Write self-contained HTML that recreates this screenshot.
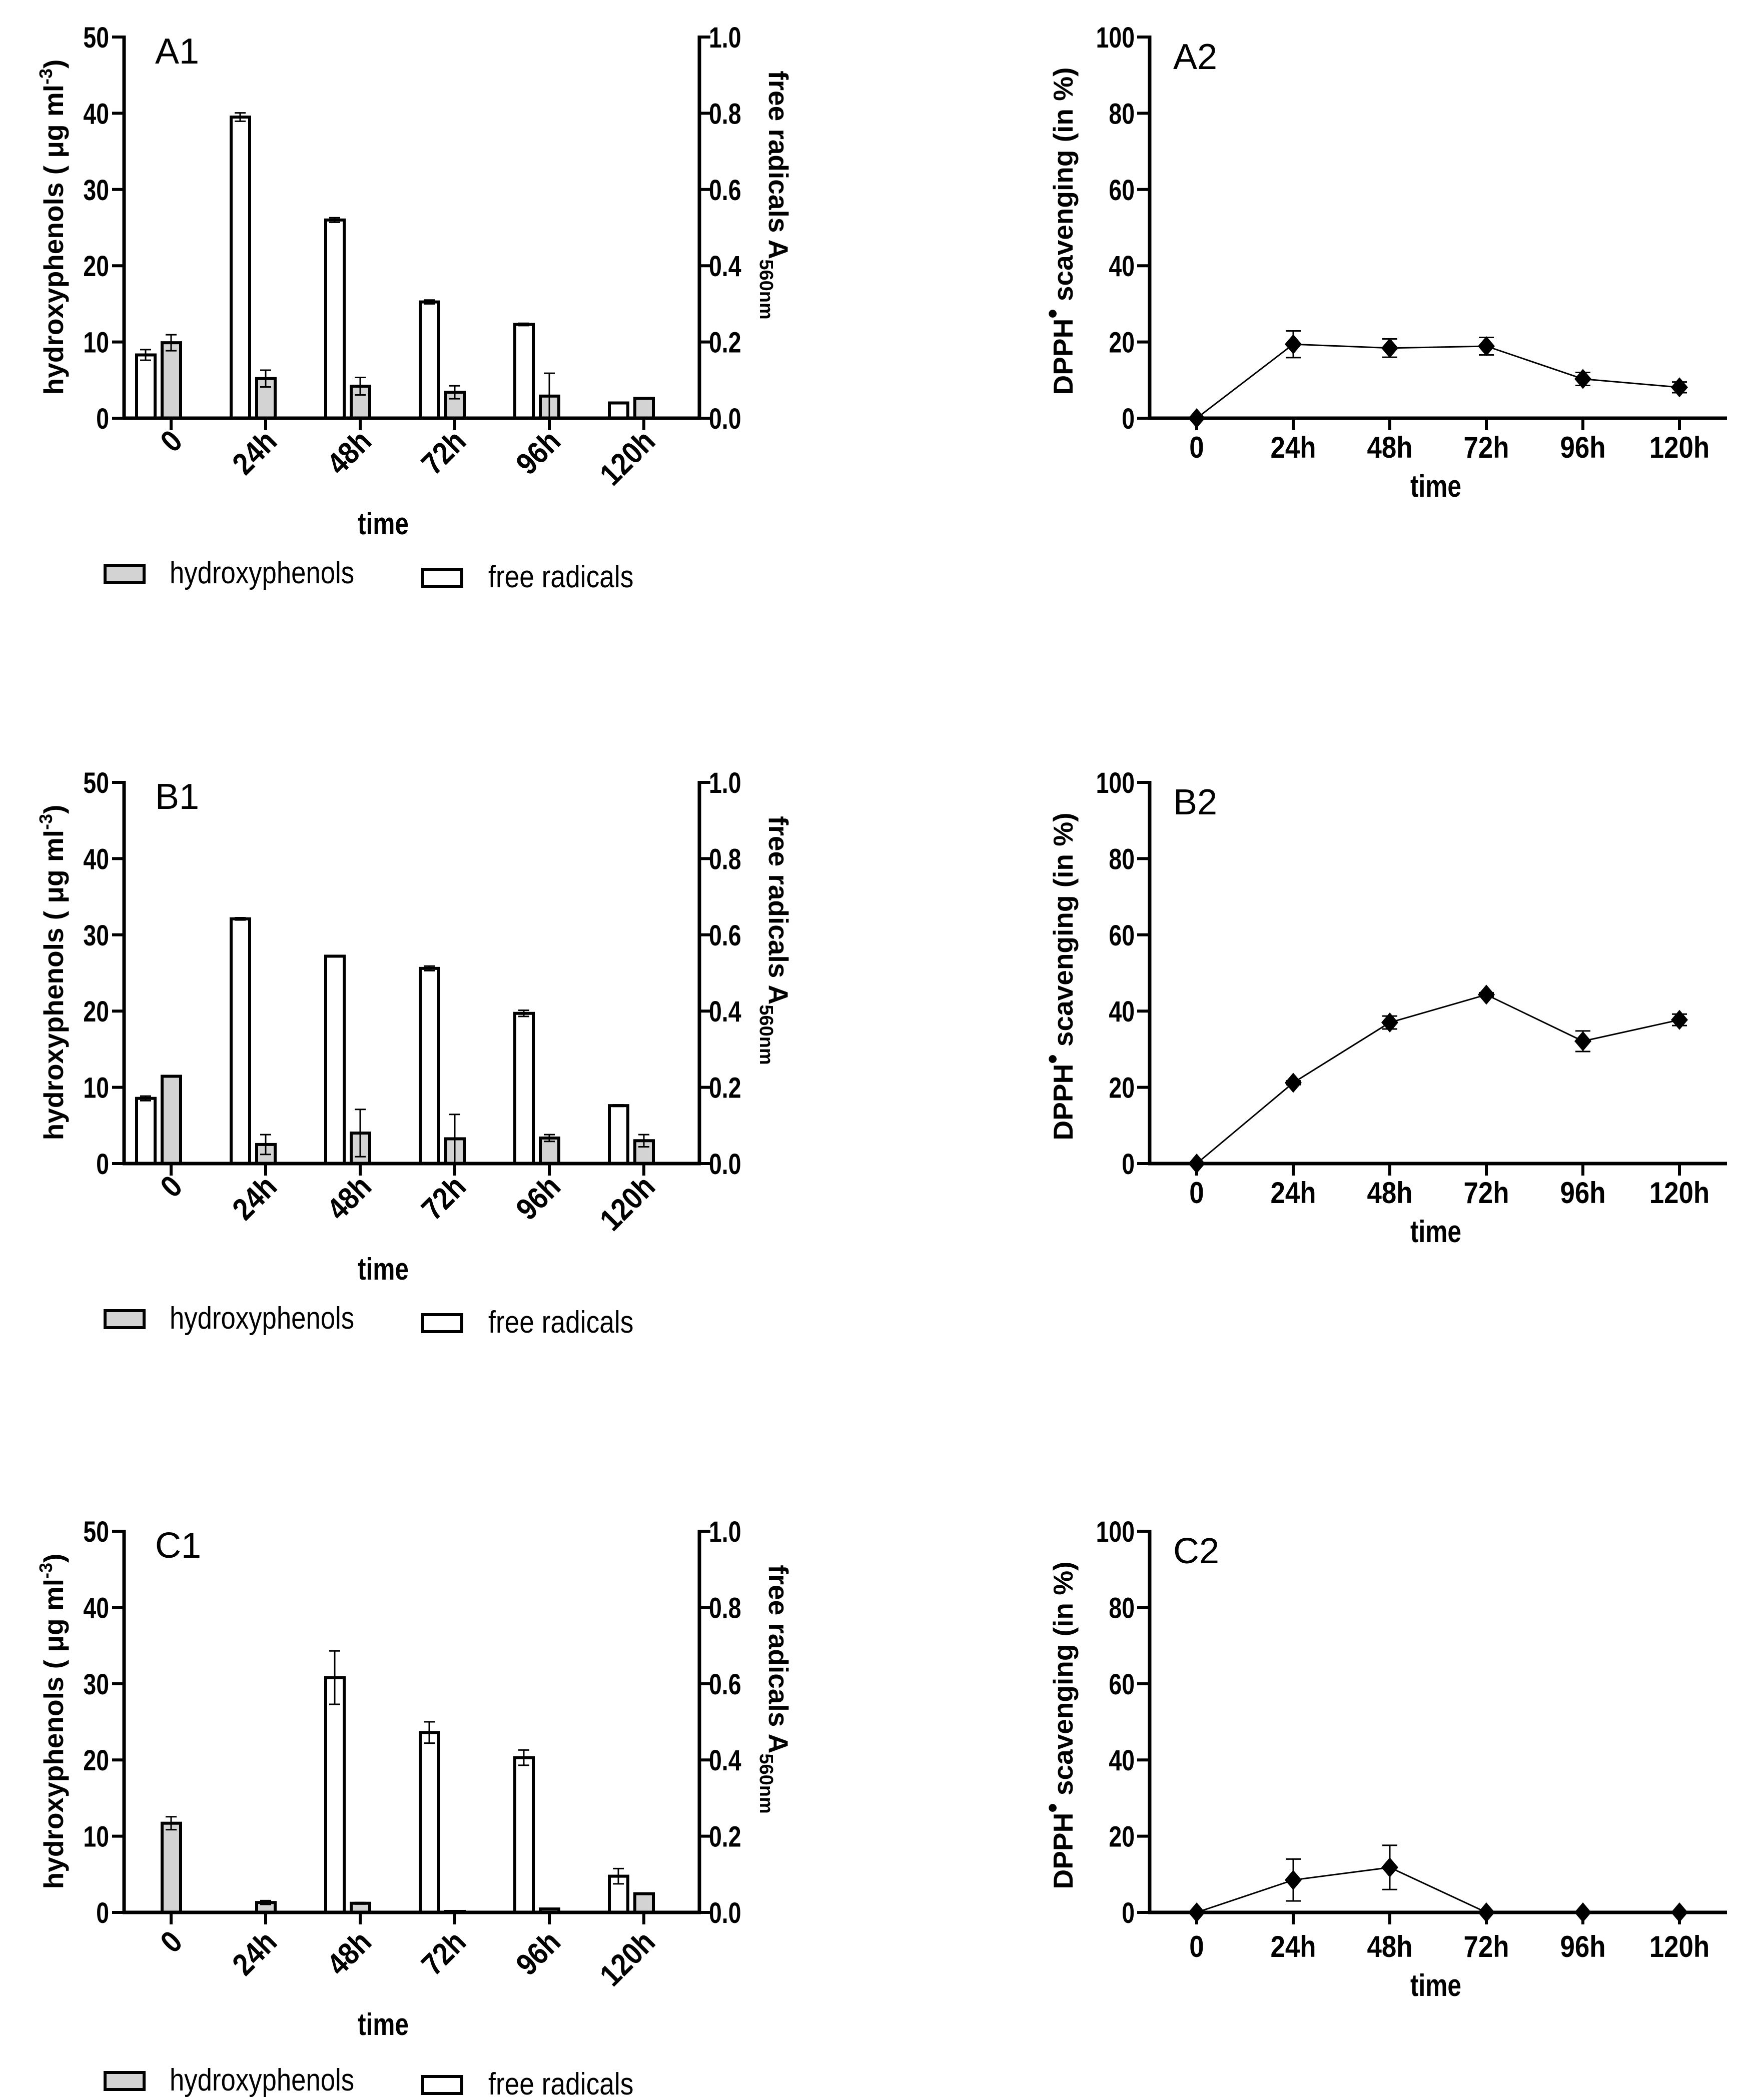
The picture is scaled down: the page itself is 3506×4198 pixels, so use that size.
<!DOCTYPE html>
<html>
<head>
<meta charset="utf-8">
<style>
html,body{margin:0;padding:0;background:#fff;}
svg{display:block;}
.tk{font-family:"Liberation Sans Narrow","Liberation Sans",sans-serif;font-weight:bold;font-size:58px;fill:#000;}
.ttl{font-family:"Liberation Sans",sans-serif;font-weight:bold;font-size:55px;fill:#000;}
.pl{font-family:"Liberation Sans Narrow","Liberation Sans",sans-serif;font-size:72px;fill:#000;}
.lg{font-family:"Liberation Sans Narrow","Liberation Sans",sans-serif;font-size:62px;fill:#000;}
</style>
</head>
<body>
<svg id="fig" xmlns="http://www.w3.org/2000/svg" width="3506" height="4198" viewBox="0 0 3506 4198"></svg>
<script>
const timeLabels = ['0','24h','48h','72h','96h','120h'];
const leftTicks = [0,10,20,30,40,50];
const rightTicks = ['0.0','0.2','0.4','0.6','0.8','1.0'];
const dpphTicks = [0,20,40,60,80,100];

const a1Radicals = [0.166,0.79,0.52,0.305,0.246,0.04];
const a1RadErr = [0.014,0.011,0.006,0.005,0.003,0.002];
const a1Phenols = [9.9,5.2,4.2,3.4,2.9,2.6];
const a1PhenErr = [1.05,1.1,1.15,0.85,3.0,0];

const b1Radicals = [0.171,0.642,0.544,0.512,0.394,0.152];
const b1RadErr = [0.006,0.003,0.002,0.006,0.008,0.002];
const b1Phenols = [11.45,2.5,4.0,3.25,3.35,3.0];
const b1PhenErr = [0.1,1.3,3.1,3.2,0.45,0.8];

const c1Radicals = [0,0,0.616,0.472,0.406,0.095];
const c1RadErr = [0,0,0.07,0.028,0.02,0.02];
const c1Phenols = [11.7,1.3,1.2,0.1,0.45,2.45];
const c1PhenErr = [0.85,0.25,0.1,0,0,0];

const a2Scav = [0,19.4,18.4,18.9,10.3,8.1];
const a2Err = [0,3.5,2.4,2.3,1.7,1.4];
const b2Scav = [0,21.2,37.0,44.3,32.1,37.7];
const b2Err = [0,0.5,1.7,0.5,2.7,1.5];
const c2Scav = [0,8.5,11.8,0,0,0];
const c2Err = [0,5.5,5.8,0,0,0];

const NS = 'http://www.w3.org/2000/svg';
const svg = document.getElementById('fig');
const narrowList = [];
function mk(tag, attrs, parent){
  const e = document.createElementNS(NS, tag);
  for (const k in attrs) e.setAttribute(k, attrs[k]);
  (parent||svg).appendChild(e);
  return e;
}
function line(g,x1,y1,x2,y2,w){ return mk('line',{x1:x1,y1:y1,x2:x2,y2:y2,stroke:'#000','stroke-width':w,'stroke-linecap':'butt'},g); }
function txt(g,x,y,s,cls,anchor,tr,narrow){
  const t = mk('text',{x:x,y:y,class:cls,'text-anchor':anchor||'start'},g);
  if (tr) t.setAttribute('transform',tr);
  t.textContent = s;
  narrowList.push([t, narrow || 0.8]);
  return t;
}

function barPanel(oy, below, legBelow, label, name, rad, radErr, phen, phenErr){
  const g = mk('g',{});
  
  
  const x0 = 248, x1 = 1398, base = oy + 836, top = oy + 74;
  const per = (base - top) / 50;
  const yL = v => base - v * per;
  const yR = v => base - v * 50 * per;
  const xc = i => 342 + 189 * i;
  for (let i = 0; i < timeLabels.length; i++){
    const cg = xc(i);
    if (rad[i] > 0){
      const r = mk('rect',{x:cg - 69, y:yR(rad[i]), width:37, height:base - yR(rad[i]), fill:'#fff', stroke:'#000','stroke-width':6},g);
      
      
      if (radErr[i] > 0){
        const cx = cg - 51;
        const e = mk('g',{},g);
        
        
        const hi = yR(rad[i] + radErr[i]), lo = yR(rad[i] - radErr[i]);
        line(e,cx,hi,cx,lo,3); line(e,cx-11,hi,cx+11,hi,3); line(e,cx-11,lo,cx+11,lo,3);
      }
    }
    if (phen[i] > 0){
      const h = Math.max(base - yL(phen[i]), 2);
      const r = mk('rect',{x:cg - 18, y:base - h, width:37, height:h, fill:'#d3d3d3', stroke:'#000','stroke-width':6},g);
      
      
      if (phenErr[i] > 0){
        const cx = cg;
        const e = mk('g',{},g);
        
        
        const hi = yL(phen[i] + phenErr[i]), lo = yL(phen[i] - phenErr[i]);
        line(e,cx,hi,cx,lo,3); line(e,cx-11,hi,cx+11,hi,3); line(e,cx-11,lo,cx+11,lo,3);
      }
    }
  }
  const ax = mk('g',{},g);
  
  
  line(ax,x0,top-3,x0,base+3,7);
  line(ax,x1,top-3,x1,base+3,7);
  line(ax,x0-3,base,x1+3,base,7);
  for (let k = 0; k < leftTicks.length; k++){
    const y = yL(leftTicks[k]);
    line(ax,224,y,x0,y,6);
    const t = txt(ax,218,y+21,String(leftTicks[k]),'tk','end');
    
    
    line(ax,x1,y,x1+22,y,6);
    const t2 = txt(ax,1417,y+21,rightTicks[k],'tk','start');
    
    
  }
  for (let i = 0; i < timeLabels.length; i++){
    const x = xc(i);
    line(ax,x,base,x,base+24,6);
    const ex = x + 26, ey = base + 50 + below;
    const t = txt(ax,ex,ey,timeLabels[i],'tk','end','rotate(-45 '+ex+' '+ey+')',0.88);
    t.setAttribute('style','font-size:62px');
    
    
  }
  const tt = txt(g,766,oy+1068+below,'time','tk','middle');
  
  
  tt.setAttribute('style','font-size:62px');
  const ly = oy + 454;
  const lt = mk('text',{x:0,y:0,class:'ttl','text-anchor':'middle',transform:'translate(126 '+ly+') rotate(-90)'},g);
  
  
  lt.appendChild(document.createTextNode('hydroxyphenols ( \u03bcg ml'));
  const sup = mk('tspan',{dy:-22,style:'font-size:36px'},lt); sup.textContent='-3';
  const cl = mk('tspan',{dy:22},lt); cl.textContent=')';
  const ry = oy + 390;
  const rt = mk('text',{x:0,y:0,class:'ttl','text-anchor':'middle',transform:'translate(1537 '+ry+') rotate(90)'},g);
  
  
  rt.appendChild(document.createTextNode('free radicals A'));
  const sub = mk('tspan',{dy:18,style:'font-size:38px'},rt); sub.textContent='560nm';
  const pl = txt(g,310,oy+127,label,'pl','start',null,1);
  
  
  const lg = mk('g',{},g);
  
  
  const ly2 = oy + legBelow;
  const le1 = mk('g',{},lg);
  
  
  mk('rect',{x:210,y:ly2+1130,width:78,height:34,fill:'#d3d3d3',stroke:'#000','stroke-width':6},le1);
  txt(le1,339,ly2+1166,'hydroxyphenols','lg','start',null,0.85);
  const le2 = mk('g',{},lg);
  
  
  mk('rect',{x:845,y:ly2+1138,width:78,height:34,fill:'#fff',stroke:'#000','stroke-width':6},le2);
  txt(le2,976,ly2+1174,'free radicals','lg','start',null,0.86);
}

function linePanel(oy, below, label, name, vals, errs){
  const g = mk('g',{});
  
  
  const x0 = 2298, x1 = 3452, base = oy + 836, top = oy + 74;
  const per = (base - top) / 100;
  const yS = v => base - v * per;
  const xc = i => 2392 + 193 * i;
  const ax = mk('g',{},g);
  
  
  line(ax,x0,top-3,x0,base+3,7);
  line(ax,x0-3,base,x1,base,7);
  for (let k = 0; k < dpphTicks.length; k++){
    const y = yS(dpphTicks[k]);
    line(ax,2273,y,x0,y,6);
    const t = txt(ax,2268,y+21,String(dpphTicks[k]),'tk','end');
    
    
  }
  for (let i = 0; i < timeLabels.length; i++){
    const x = xc(i);
    line(ax,x,base,x,base+24,6);
    const t = txt(ax,x,base+79+below,timeLabels[i],'tk','middle',null,0.88);
    t.setAttribute('style','font-size:60px');
    
    
  }
  const tt = txt(g,2870,oy+993+below,'time','tk','middle');
  
  
  tt.setAttribute('style','font-size:62px');
  const yt = mk('text',{x:0,y:0,class:'ttl','text-anchor':'middle',transform:'translate(2144 '+(oy+462)+') rotate(-90)'},g);
  
  
  yt.appendChild(document.createTextNode('DPPH'));
  const sp = mk('tspan',{dy:-22},yt); sp.textContent='\u2022';
  const rest = mk('tspan',{dy:22},yt); rest.textContent=' scavenging (in %)';
  const pl = txt(g,2345,oy+138,label,'pl','start',null,1);
  
  
  let d = '';
  for (let i = 0; i < vals.length; i++) d += (i ? 'L' : 'M') + xc(i) + ' ' + yS(vals[i]);
  const p = mk('path',{d:d,fill:'none',stroke:'#000','stroke-width':3},g);
  
  
  for (let i = 0; i < vals.length; i++){
    const x = xc(i), y = yS(vals[i]);
    if (errs[i] > 0){
      const e = mk('g',{},g);
      
      
      const hi = yS(vals[i]+errs[i]), lo = yS(vals[i]-errs[i]);
      line(e,x,hi,x,lo,3); line(e,x-15,hi,x+15,hi,3); line(e,x-15,lo,x+15,lo,3);
    }
    const m = mk('path',{d:'M'+x+' '+(y-20)+'L'+(x+17)+' '+y+'L'+x+' '+(y+20)+'L'+(x-17)+' '+y+'Z',fill:'#000'},g);
    
    
  }
}

barPanel(0, 0, 0, 'A1', 'a1', a1Radicals, a1RadErr, a1Phenols, a1PhenErr);
barPanel(1490, 0, 0, 'B1', 'b1', b1Radicals, b1RadErr, b1Phenols, b1PhenErr);
barPanel(2987, 13, 26, 'C1', 'c1', c1Radicals, c1RadErr, c1Phenols, c1PhenErr);
linePanel(0, 0, 'A2', 'a2', a2Scav, a2Err);
linePanel(1490, 0, 'B2', 'b2', b2Scav, b2Err);
linePanel(2987, 10, 'C2', 'c2', c2Scav, c2Err);

for (const [t, f] of narrowList){
  if (f === 1) continue;
  try {
    const w = t.getComputedTextLength();
    if (w > 0){
      t.setAttribute('textLength', (w * f).toFixed(1));
      t.setAttribute('lengthAdjust', 'spacingAndGlyphs');
    }
  } catch (e) {}
}
</script>
</body>
</html>
